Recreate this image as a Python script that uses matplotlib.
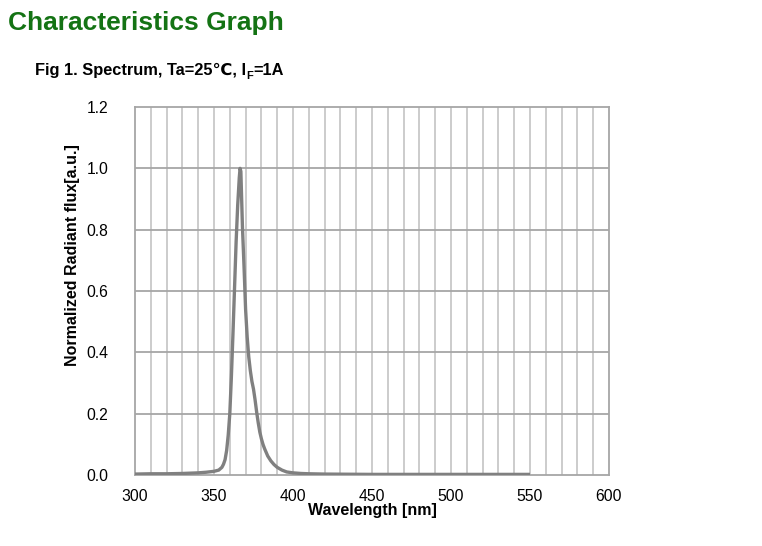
import matplotlib
matplotlib.use("Agg")
import matplotlib.pyplot as plt

plt.rcParams['font.family'] = ['Liberation Sans', 'DejaVu Sans']

wavelength_nm = [300, 310, 320, 330, 340, 345, 350, 353, 355, 356, 357, 358, 359, 360,
                 361, 362, 363, 364, 365, 366, 366.5, 367, 368, 369, 370, 371, 372, 373,
                 374, 375, 376, 377, 378, 379, 380, 381, 382, 384, 386, 388, 390, 393, 396, 400,
                 405, 410, 420, 450, 500, 550]
flux = [0.003, 0.004, 0.004, 0.005, 0.007, 0.009, 0.012, 0.016, 0.025, 0.035, 0.05, 0.08,
        0.13, 0.20, 0.32, 0.46, 0.61, 0.76, 0.88, 0.97, 1.0, 0.99, 0.81, 0.68, 0.54, 0.45,
        0.385, 0.34, 0.305, 0.28, 0.245, 0.205, 0.17, 0.14, 0.118, 0.1, 0.086, 0.062, 0.046,
        0.034, 0.025, 0.016, 0.010, 0.007, 0.005, 0.004, 0.003, 0.002, 0.002, 0.002]

x_ticks = [300, 350, 400, 450, 500, 550, 600]
y_ticks = [0.0, 0.2, 0.4, 0.6, 0.8, 1.0, 1.2]
x_tick_labels = ['300', '350', '400', '450', '500', '550', '600']
y_tick_labels = ['0.0', '0.2', '0.4', '0.6', '0.8', '1.0', '1.2']

W, H = 762, 546
fig = plt.figure(figsize=(W / 100, H / 100), dpi=100)
ax = fig.add_axes([135 / W, 1 - 475 / H, (609 - 135) / W, (475 - 107) / H])

ax.set_xlim(300, 600)
ax.set_ylim(0, 1.2)

# grid
for xv in range(310, 600, 10):
    ax.axvline(xv, color='#c8c8c8', lw=1.3, zorder=1)
for yv in y_ticks[1:-1]:
    ax.axhline(yv, color='#a6a6a6', lw=1.3, zorder=1)

ax.plot(wavelength_nm, flux, color='#808080', lw=2.4, zorder=3, solid_capstyle='butt')

for s in ax.spines.values():
    s.set_color('#a6a6a6')
    s.set_linewidth(1.3)

ax.set_xticks(x_ticks)
ax.set_xticklabels(x_tick_labels)
ax.set_yticks(y_ticks)
ax.set_yticklabels(y_tick_labels)
ax.tick_params(length=0, labelsize=11.3, colors='black', pad=19, axis='y')
ax.tick_params(length=0, labelsize=11.3, colors='black', pad=10, axis='x')

fig.text(372 / W, 1 - 510 / H, 'Wavelength [nm]', ha='center', va='center',
         fontsize=11.5, fontweight='bold')
fig.text(73 / W, 1 - 255 / H, 'Normalized Radiant flux[a.u.]', ha='center', va='center',
         rotation=90, fontsize=11.5, fontweight='bold')

fig.text(8 / W, 1 - 23 / H, 'Characteristics Graph', ha='left', va='center',
         fontsize=19, fontweight='bold', color='#147314')

# subtitle with subscript F
fig.canvas.draw()
r = fig.canvas.get_renderer()
y0 = 1 - 75 / H
t1 = fig.text(35 / W, y0, 'Fig 1. Spectrum, Ta=25℃, I', ha='left', va='baseline',
              fontsize=11.8, fontweight='bold')
bb = t1.get_window_extent(r)
t2 = fig.text(bb.x1 / W, y0 - 4 / H, 'F', ha='left', va='baseline',
              fontsize=8, fontweight='bold')
bb2 = t2.get_window_extent(r)
fig.text(bb2.x1 / W, y0, '=1A', ha='left', va='baseline', fontsize=11.8, fontweight='bold')

fig.savefig('out.png', dpi=100)
